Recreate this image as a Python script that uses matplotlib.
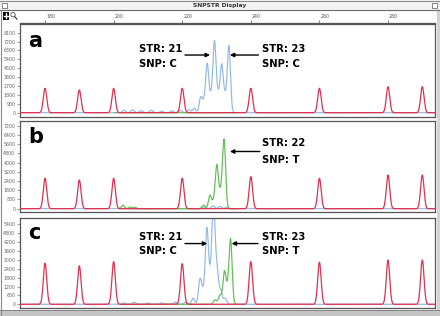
import numpy as np
import matplotlib
matplotlib.use("Agg")
import matplotlib.pyplot as plt
from matplotlib.patches import Rectangle, Circle

# size standard (red) peaks, same positions in every lane
size_std = [180, 190, 200, 220, 240, 260, 280, 290]
red_a = [2470, 2300, 2470, 2470, 2470, 2470, 2630, 2630]
red_b = [2640, 2490, 2640, 2640, 2780, 2640, 2920, 2920]
red_c = [2770, 2600, 2880, 2740, 2880, 2840, 2990, 2990]

# blue (C) peaks
blue_pos_a = [203, 205.5, 208, 211, 214, 217, 219.5, 222, 223.5, 225.4, 226.4,
              227.3, 228.4, 229.4, 230.4, 231.5, 232.5, 233.6]
blue_h_a = [250, 300, 200, 250, 150, 200, 250, 300, 450, 1550, 1000,
            4800, 1500, 7050, 1700, 4750, 1500, 6750]
blue_pos_b = [226.5, 229, 231, 233]
blue_h_b = [150, 250, 200, 150]
blue_pos_c = [203, 206, 210, 214, 218, 221, 223.2, 225.2, 226.2, 227.2, 228.2,
              229.1, 230.1, 231.2, 232.5]
blue_h_c = [100, 150, 100, 100, 150, 150, 420, 1700, 800, 5000, 1500,
            6600, 2300, 900, 400]

# green (T) peaks
green_pos_a = []
green_h_a = []
green_pos_b = [202.7, 204.8, 206.2, 226.2, 228.1, 229.2, 230.1, 231.2, 232.2]
green_h_b = [300, 150, 120, 300, 1150, 550, 3700, 1300, 5950]
green_pos_c = [229.6, 231.0, 232.3, 233.2, 234.1]
green_h_c = [300, 600, 2150, 800, 4330]

ruler_ticks = [180, 200, 220, 240, 260, 280]
yticks_a = list(range(0, 8101, 900))
yticks_b = list(range(0, 7201, 800))
yticks_c = list(range(0, 5401, 600))

XMIN, XMAX = 172.7, 293.7
RED = '#e2304e'
BLUE = '#94b8e4'
GREEN = '#5cbf4e'


def trace(x, pos, h, s=0.45):
    y = np.zeros_like(x)
    for p, v in zip(pos, h):
        y += v * np.exp(-(x - p) ** 2 / (2 * s * s))
    return y


fig = plt.figure(figsize=(4.4, 3.16), dpi=100)
fig.patch.set_facecolor('white')

# window chrome, in pixel coordinates
bg = fig.add_axes([0, 0, 1, 1])
bg.set_xlim(0, 440)
bg.set_ylim(316, 0)
bg.axis('off')
bg.add_patch(Rectangle((0, 0), 440, 9.5, fc='#f4f4f4', ec='none'))
bg.plot([0, 440], [0.5, 0.5], color='#8a8a8a', lw=0.8)
bg.plot([0, 440], [9.5, 9.5], color='#6a6a6a', lw=0.8)
bg.text(220, 5, 'SNPSTR Display', ha='center', va='center', fontsize=4.3,
        fontweight='bold', color='#333333')
bg.add_patch(Rectangle((2, 2.5), 5, 5, fc='white', ec='#555555', lw=0.5))
bg.add_patch(Rectangle((432, 2.5), 5, 5, fc='white', ec='#555555', lw=0.5))
bg.add_patch(Rectangle((2.5, 12), 6.5, 7.5, fc='black', ec='none'))
bg.plot([3.8, 7.7], [15.75, 15.75], color='white', lw=1.0)
bg.plot([5.75, 5.75], [13.3, 18.2], color='white', lw=1.0)
bg.add_patch(Circle((13, 14.7), 2.2, fc='white', ec='#333333', lw=0.5))
bg.plot([14.5, 17], [16.4, 19.2], color='#333333', lw=0.8)
bg.plot([0.5, 0.5], [9.5, 316], color='#8a8a8a', lw=0.8)
bg.add_patch(Rectangle((436.5, 9.5), 3.5, 306.5, fc='#d4d4d4', ec='none'))
bg.add_patch(Rectangle((0, 309.5), 440, 6.5, fc='#c4c4c4', ec='none'))
bg.plot([0, 440], [309.5, 309.5], color='#777777', lw=0.6)

# ruler
ax_r = fig.add_axes([20 / 440, 1 - 22.5 / 316, 415 / 440, 11 / 316])
ax_r.set_xlim(XMIN, XMAX)
ax_r.set_ylim(0, 1)
for s in ['top', 'left', 'right']:
    ax_r.spines[s].set_visible(False)
ax_r.spines['bottom'].set_color('#555555')
ax_r.spines['bottom'].set_linewidth(0.9)
ax_r.set_xticks(ruler_ticks)
ax_r.set_yticks([])
ax_r.tick_params(axis='x', direction='in', length=2.5, width=0.5,
                 color='#555555', labelbottom=False)
ax_r.patch.set_alpha(0)
for t in ruler_ticks:
    ax_r.text(t + 0.3, 0.55, str(t), transform=ax_r.get_xaxis_transform(),
              fontsize=3.4, color='#555555', ha='left', va='center')

panels = [
    # letter, bottom px, top px, ylim, yticks, red, blue, green, green range
    ('a', 116.7, 24.0, (-405, 8980), yticks_a, red_a,
     (blue_pos_a, blue_h_a), (green_pos_a, green_h_a), (200.4, 235.4)),
    ('b', 212.0, 120.7, (-286, 7634), yticks_b, red_b,
     (blue_pos_b, blue_h_b), (green_pos_b, green_h_b), (201.5, 236.0)),
    ('c', 308.0, 217.7, (-250, 5845), yticks_c, red_c,
     (blue_pos_c, blue_h_c), (green_pos_c, green_h_c), (202.0, 236.0)),
]

x = np.linspace(XMIN, XMAX, 4000)
axes = []
for letter, bot, top, ylim, yt, red, blue, green, grng in panels:
    ax = fig.add_axes([20 / 440, 1 - bot / 316, 415 / 440, (bot - top) / 316])
    ax.set_xlim(XMIN, XMAX)
    ax.set_ylim(*ylim)
    ax.set_xticks([])
    ax.set_yticks(yt)
    ax.set_yticklabels([str(v) for v in yt])
    ax.tick_params(axis='y', length=2.5, width=0.5, pad=0.8, labelsize=3.4,
                   labelcolor='#666666', color='#777777')
    for s in ax.spines.values():
        s.set_color('#555555')
        s.set_linewidth(0.9)
    ax.plot(x, trace(x, *blue), color=BLUE, lw=0.85, zorder=2)
    gx = x[(x >= grng[0]) & (x <= grng[1])]
    ax.plot(gx, trace(gx, *green), color=GREEN, lw=0.85, zorder=3)
    ax.plot(x, trace(x, size_std, red, 0.5), color=RED, lw=0.9, zorder=4)
    ax.text(0.0193, {'a': 0.752, 'b': 0.756, 'c': 0.764}[letter], letter,
            transform=ax.transAxes, fontsize=15, fontweight='bold',
            va='baseline', ha='left')
    axes.append(ax)

ax_a, ax_b, ax_c = axes
arrow = dict(arrowstyle='-|>', color='black', lw=1.0, mutation_scale=6,
             shrinkA=0, shrinkB=0)
tf = dict(fontsize=7.2, fontweight='bold', va='center', ha='left')

# panel a
ax_a.text(207.4, 6400, 'STR: 21', **tf)
ax_a.text(207.4, 4930, 'SNP: C', **tf)
ax_a.annotate('', xy=(228.1, 5840), xytext=(220.8, 5840), arrowprops=arrow)
ax_a.annotate('', xy=(233.9, 5840), xytext=(242.2, 5840), arrowprops=arrow)
ax_a.text(243.2, 6400, 'STR: 23', **tf)
ax_a.text(243.2, 4930, 'SNP: C', **tf)

# panel b
ax_b.annotate('', xy=(233.9, 4963), xytext=(242.6, 4963), arrowprops=arrow)
ax_b.text(243.2, 5700, 'STR: 22', **tf)
ax_b.text(243.2, 4225, 'SNP: T', **tf)

# panel c
ax_c.text(207.4, 4540, 'STR: 21', **tf)
ax_c.text(207.4, 3597, 'SNP: C', **tf)
ax_c.annotate('', xy=(227.3, 4100), xytext=(220.8, 4100), arrowprops=arrow)
ax_c.annotate('', xy=(234.4, 4100), xytext=(242.1, 4100), arrowprops=arrow)
ax_c.text(243.2, 4540, 'STR: 23', **tf)
ax_c.text(243.2, 3597, 'SNP: T', **tf)

fig.savefig('out.png', dpi=100)
